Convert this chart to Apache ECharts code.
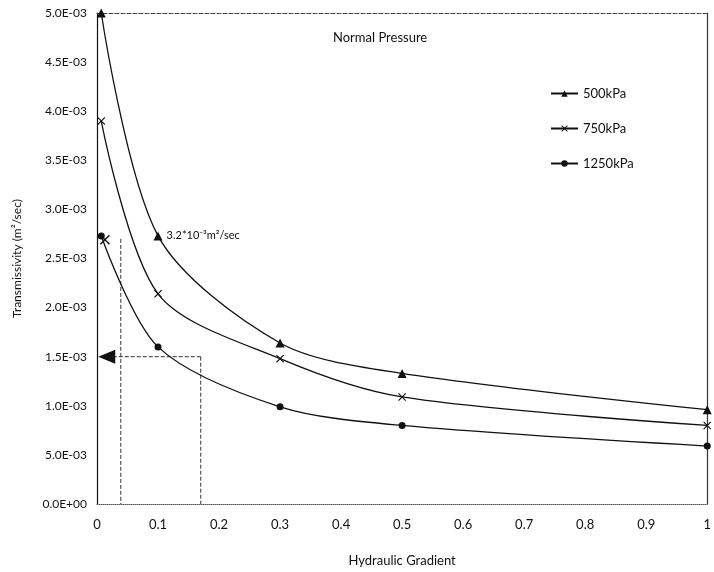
<!DOCTYPE html>
<html>
<head>
<meta charset="utf-8">
<script src="https://cdn.jsdelivr.net/npm/echarts@6/dist/echarts.min.js"></script>
<style>
  html, body { margin: 0; padding: 0; background: #fff; }
  #chart { width: 714px; height: 572px; }
</style>
</head>
<body>
<div id="chart"></div>
<script>
// hydraulic gradient values (x) for every pressure
var gradient = [0.007, 0.1, 0.3, 0.5, 1.0];
var t500 = [5.0e-3, 2.73e-3, 1.64e-3, 1.33e-3, 0.96e-3];
var t750 = [3.9e-3, 2.14e-3, 1.48e-3, 1.09e-3, 0.80e-3];
var t1250 = [2.73e-3, 1.60e-3, 0.99e-3, 0.80e-3, 0.59e-3];

var xTickLabels = ["0", "0.1", "0.2", "0.3", "0.4", "0.5", "0.6", "0.7", "0.8", "0.9", "1"];
// labels as printed (the 5.0E-04 tick is printed as 5.0E-03)
var yTickLabels = ["0.0E+00", "5.0E-03", "1.0E-03", "1.5E-03", "2.0E-03", "2.5E-03",
  "3.0E-03", "3.5E-03", "4.0E-03", "4.5E-03", "5.0E-03"];

// reading guides drawn on the chart
var guideArrow = [0.016, 1.5e-3];
var guideH = [[0.016, 1.5e-3], [0.17, 1.5e-3]];
var guideV1 = [[0.039, 2.7e-3], [0.039, 0]];
var guideV2 = [[0.17, 1.5e-3], [0.17, 0]];
var noteHigh = "3.2*10\u207B\u00B3m\u00B2/sec";
var noteLow = "1.8*10\u207B\u00B3m\u00B2/sec";
var noteLowPos = [0.042, 1.03e-3];

var crossPath = "path://M0,1L1,0L5,4L9,0L10,1L6,5L10,9L9,10L5,6L1,10L0,9L4,5Z";

function pairs(ys) {
  return gradient.map(function(x, i) { return [x, ys[i]]; });
}

var font = "Lato, 'Open Sans', sans-serif";
var ink = "#111";
var chart = echarts.init(document.getElementById("chart"));

var lineBase = {
  type: "line",
  smooth: 0.3,
  color: ink,
  lineStyle: { color: ink, width: 1.3 },
  itemStyle: { color: ink },
  xAxisIndex: 0,
  yAxisIndex: 0,
  z: 3
};

var p500 = pairs(t500);
p500[1] = {
  value: p500[1],
  label: {
    show: true, position: "right", distance: 4,
    formatter: noteHigh, color: ink, fontSize: 11, fontFamily: font
  }
};

chart.setOption({
  animation: false,
  backgroundColor: "#fff",
  textStyle: { fontFamily: font },
  grid: { left: 97, right: 4, top: 13, bottom: 62, containLabel: false },
  title: {
    text: "Normal Pressure",
    left: 328, top: 26,
    textStyle: { fontSize: 13, fontWeight: "normal", color: ink, fontFamily: font }
  },
  legend: {
    orient: "vertical",
    left: 545, top: 82,
    itemWidth: 27, itemHeight: 8,
    itemGap: 22,
    textStyle: { fontSize: 13, color: ink, fontFamily: font },
    data: ["500kPa", "750kPa", "1250kPa"]
  },
  xAxis: [
    {
      type: "value",
      min: 0, max: 1, interval: 0.1,
      name: "Hydraulic Gradient",
      nameLocation: "middle",
      nameGap: 50,
      nameTextStyle: { fontSize: 13, color: ink, fontFamily: font },
      axisLine: { show: true, lineStyle: { color: "#555", type: "dotted", width: 1 } },
      axisTick: { show: false },
      splitLine: { show: false },
      axisLabel: {
        margin: 14, fontSize: 13, color: ink, fontFamily: font,
        formatter: function(v) { return xTickLabels[Math.round(v * 10)]; }
      }
    },
    {
      type: "value", position: "top",
      min: 0, max: 1,
      axisLine: { show: true, onZero: false, lineStyle: { color: "#444", type: "dashed", width: 1 } },
      axisTick: { show: false }, axisLabel: { show: false }, splitLine: { show: false }
    }
  ],
  yAxis: [
    {
      type: "value",
      min: 0, max: 5e-3, interval: 0.5e-3,
      name: "Transmissivity (m\u00B2/sec)",
      nameLocation: "middle",
      nameGap: 74,
      nameTextStyle: { fontSize: 12, color: ink, fontFamily: font },
      axisLine: { show: true, lineStyle: { color: ink, width: 1.2 } },
      axisTick: { show: false },
      splitLine: { show: false },
      axisLabel: {
        margin: 10, fontSize: 12, color: ink, fontFamily: font,
        formatter: function(v) { return yTickLabels[Math.round(v / 0.5e-3)]; }
      }
    },
    {
      type: "value", position: "right",
      min: 0, max: 5e-3,
      axisLine: { show: true, onZero: false, lineStyle: { color: "#333", width: 1.2 } },
      axisTick: { show: false }, axisLabel: { show: false }, splitLine: { show: false }
    }
  ],
  series: [
    Object.assign({}, lineBase, {
      name: "500kPa", symbol: "triangle", symbolSize: 9, data: p500
    }),
    Object.assign({}, lineBase, {
      name: "750kPa", symbol: crossPath, symbolSize: 8, data: pairs(t750)
    }),
    Object.assign({}, lineBase, {
      name: "1250kPa", symbol: "circle", symbolSize: 7, data: pairs(t1250)
    }),
    {
      type: "line", data: guideH, symbol: "none", silent: true,
      lineStyle: { color: "#333", type: "dashed", width: 1 }, z: 2
    },
    {
      type: "line", data: guideV1, symbol: "none", silent: true,
      lineStyle: { color: "#333", type: "dashed", width: 1 }, z: 2
    },
    {
      type: "line", data: guideV2, symbol: "none", silent: true,
      lineStyle: { color: "#333", type: "dashed", width: 1 }, z: 2
    },
    {
      type: "scatter", data: [guideArrow], symbol: "triangle",
      symbolSize: [14, 17], symbolRotate: 90, silent: true,
      itemStyle: { color: ink, opacity: 1 }, z: 4
    },
    {
      type: "scatter", data: [[gradient[0] + 0.006, t1250[0] - 0.04e-3]], symbol: crossPath,
      symbolSize: 10, silent: true, itemStyle: { color: ink, opacity: 1 }, z: 4
    },
    {
      type: "scatter", data: [noteLowPos], symbol: "none", silent: true,
      label: {
        show: true, position: "right", distance: 0,
        formatter: noteLow, color: ink, fontSize: 11, fontFamily: font
      }
    }
  ]
});
</script>
</body>
</html>
